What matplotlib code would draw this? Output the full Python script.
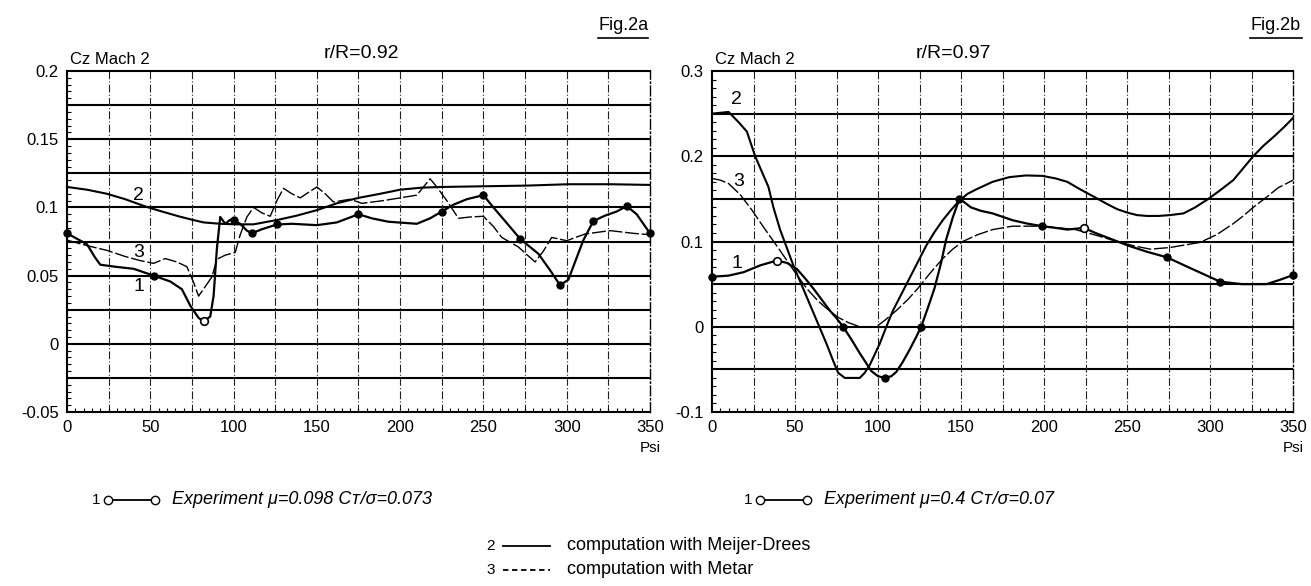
import matplotlib.pyplot as plt
from matplotlib.lines import Line2D
from matplotlib.ticker import MultipleLocator, FixedLocator

plt.rcParams['font.family'] = ['Liberation Sans', 'DejaVu Sans']

# ---- Fig.2a : r/R = 0.92 ----
psi_a_exp = [0, 6, 12, 17, 20, 29, 40, 52, 62, 69, 74, 79, 82, 86, 88, 90, 92, 95, 98, 100,
             104, 108, 111, 117, 126, 135, 150, 162, 175, 183, 193, 210, 218, 225, 232, 240,
             250, 256, 263, 272, 283, 290, 296, 301, 305, 310, 316, 323, 330, 336, 342, 350]
cz_a_exp = [0.081, 0.077, 0.073, 0.063, 0.058, 0.0565, 0.055, 0.050, 0.0457, 0.040, 0.028,
            0.019, 0.0165, 0.020, 0.035, 0.070, 0.093, 0.088, 0.091, 0.0905, 0.088, 0.083,
            0.081, 0.084, 0.0875, 0.088, 0.087, 0.089, 0.095, 0.092, 0.0895, 0.088, 0.092,
            0.097, 0.102, 0.106, 0.109, 0.100, 0.090, 0.077, 0.066, 0.054, 0.043, 0.047,
            0.060, 0.076, 0.090, 0.094, 0.097, 0.101, 0.095, 0.081]
psi_a_pts = [0, 52, 100, 111, 126, 175, 225, 250, 272, 296, 316, 336, 350]
cz_a_pts = [0.081, 0.050, 0.0905, 0.081, 0.0875, 0.095, 0.097, 0.109, 0.077, 0.043, 0.090,
            0.101, 0.081]
psi_a_open = [82]
cz_a_open = [0.0165]

psi_a_md = [0, 12, 24, 35, 47, 57, 67, 75, 82, 92, 102, 112, 127, 138, 150, 162, 175, 188,
            200, 213, 225, 250, 276, 301, 326, 350]
cz_a_md = [0.115, 0.113, 0.110, 0.106, 0.1007, 0.097, 0.0935, 0.091, 0.089, 0.088, 0.0876,
           0.0876, 0.091, 0.094, 0.098, 0.103, 0.107, 0.110, 0.113, 0.1145, 0.115, 0.1155,
           0.116, 0.117, 0.117, 0.1165]

psi_a_metar = [0, 12, 24, 35, 44, 52, 59, 66, 72, 76, 79, 83, 87, 90, 95, 101, 104, 108, 112,
               117, 122, 126, 130, 135, 140, 145, 150, 155, 160, 170, 177, 190, 210, 214, 218,
               222, 228, 235, 242, 250, 256, 261, 271, 281, 286, 291, 300, 311, 326, 340, 350]
cz_a_metar = [0.076, 0.072, 0.0685, 0.064, 0.061, 0.059, 0.0625, 0.060, 0.0565, 0.045, 0.035,
              0.042, 0.049, 0.062, 0.065, 0.067, 0.080, 0.093, 0.100, 0.096, 0.0935, 0.105,
              0.114, 0.110, 0.107, 0.111, 0.115, 0.110, 0.104, 0.106, 0.103, 0.105, 0.109,
              0.115, 0.121, 0.115, 0.105, 0.092, 0.093, 0.0935, 0.086, 0.078, 0.071, 0.060,
              0.068, 0.078, 0.0756, 0.0805, 0.083, 0.081, 0.080]

# ---- Fig.2b : r/R = 0.97 ----
psi_b_exp = [0, 10, 19, 29, 39, 45, 51, 56, 61, 66, 71, 75, 79, 84, 89, 93, 96, 100, 104, 108,
             111, 115, 119, 123, 126, 130, 134, 138, 141, 145, 149, 152, 156, 162, 169, 181,
             190, 199, 207, 214, 219, 224, 231, 239, 251, 262, 274, 289, 306, 319, 334, 342,
             350]
cz_b_exp = [0.0587, 0.060, 0.064, 0.072, 0.0777, 0.075, 0.068, 0.057, 0.045, 0.032, 0.019,
            0.010, 0.0, -0.015, -0.031, -0.043, -0.052, -0.058, -0.060, -0.058, -0.053, -0.041,
            -0.027, -0.012, 0.0, 0.022, 0.045, 0.075, 0.102, 0.128, 0.150, 0.146, 0.140,
            0.136, 0.133, 0.125, 0.121, 0.118, 0.116, 0.114, 0.115, 0.116, 0.110, 0.104,
            0.095, 0.088, 0.0815, 0.068, 0.053, 0.050, 0.050, 0.055, 0.0607]
psi_b_pts = [0, 79, 104, 126, 149, 199, 274, 306, 350]
cz_b_pts = [0.0587, 0.0, -0.060, 0.0, 0.150, 0.118, 0.0815, 0.053, 0.0607]
psi_b_open = [39, 224]
cz_b_open = [0.0777, 0.116]

psi_b_md = [0, 5, 10, 16, 21, 26, 30, 34, 37, 41, 45, 49, 54, 59, 64, 69, 73, 76, 80, 89, 92,
            95, 101, 105, 109, 114, 119, 124, 129, 134, 139, 144, 149, 154, 159, 169, 179,
            189, 199, 207, 214, 222, 231, 238, 244, 250, 256, 262, 269, 276, 284, 291, 299,
            306, 314, 320, 326, 332, 339, 345, 350]
cz_b_md = [0.25, 0.251, 0.252, 0.24, 0.229, 0.2, 0.182, 0.164, 0.14, 0.114, 0.093, 0.072,
           0.049, 0.026, 0.003, -0.02, -0.04, -0.054, -0.06, -0.06, -0.054, -0.045, -0.02,
           0.0, 0.019, 0.038, 0.057, 0.076, 0.095, 0.111, 0.125, 0.137, 0.148, 0.156, 0.161,
           0.170, 0.1755, 0.1775, 0.177, 0.174, 0.17, 0.161, 0.1515, 0.144, 0.138, 0.134,
           0.131, 0.130, 0.130, 0.131, 0.133, 0.140, 0.150, 0.160, 0.172, 0.186, 0.2, 0.212,
           0.224, 0.235, 0.245]

psi_b_metar = [0, 5, 10, 17, 24, 31, 39, 45, 51, 57, 64, 70, 76, 82, 89, 99, 105, 111, 118,
               124, 131, 139, 145, 151, 160, 169, 181, 199, 219, 232, 244, 254, 264, 276, 285,
               294, 304, 314, 320, 326, 334, 341, 350]
cz_b_metar = [0.174, 0.172, 0.168, 0.155, 0.137, 0.117, 0.095, 0.078, 0.061, 0.045, 0.03,
              0.02, 0.011, 0.005, 0.0, 0.0, 0.009, 0.019, 0.032, 0.045, 0.062, 0.080, 0.091,
              0.100, 0.108, 0.114, 0.118, 0.118, 0.114, 0.107, 0.1, 0.095, 0.091, 0.093, 0.096,
              0.099, 0.108, 0.121, 0.130, 0.140, 0.152, 0.163, 0.172]

psi_ticks = [0, 50, 100, 150, 200, 250, 300, 350]

fig = plt.figure(figsize=(13.11, 5.86), dpi=100)
ax_a = fig.add_axes([0.0511, 0.2969, 0.4447, 0.5819])
ax_b = fig.add_axes([0.5431, 0.2969, 0.4432, 0.5819])

grid_dash = (0, (7, 2, 1, 2))


def setup(ax, ylo, yhi, ystep, yminor, ylabels):
    ax.set_xlim(0, 350)
    ax.set_ylim(ylo, yhi)
    ax.xaxis.set_major_locator(FixedLocator(psi_ticks))
    ax.set_xticklabels([str(v) for v in psi_ticks])
    ax.xaxis.set_minor_locator(MultipleLocator(5))
    yt = [ylo + i * ystep for i in range(len(ylabels))]
    ax.yaxis.set_major_locator(FixedLocator(yt))
    ax.set_yticklabels(ylabels)
    ax.yaxis.set_minor_locator(MultipleLocator(yminor))
    ax.tick_params(which='major', length=0, labelsize=12, pad=6)
    ax.tick_params(which='minor', direction='in', length=3, width=0.8)
    # horizontal solid lines, vertical dash-dot lines every 25
    for v in yt[1:-1]:
        ax.axhline(v, color='black', lw=1.5, zorder=1)
    for v in range(25, 350, 25):
        ax.axvline(v, color='#222222', lw=0.8, ls=grid_dash, zorder=1)
    for s in ['left', 'bottom', 'top']:
        ax.spines[s].set_linewidth(1.5)
    ax.spines['right'].set_linestyle(grid_dash)
    ax.spines['right'].set_linewidth(1.0)
    ax.text(350, ylo - (yhi - ylo) * 0.085, 'Psi', ha='center', va='top', fontsize=11)


setup(ax_a, -0.05, 0.2, 0.025, 0.005,
      ['-0.05', '', '0', '', '0.05', '', '0.1', '', '0.15', '', '0.2'])
setup(ax_b, -0.1, 0.3, 0.05, 0.01,
      ['-0.1', '', '0', '', '0.1', '', '0.2', '', '0.3'])

# curves
for ax, (xe, ye, xp, yp, xo, yo, xm, ym, xt, yt) in [
        (ax_a, (psi_a_exp, cz_a_exp, psi_a_pts, cz_a_pts, psi_a_open, cz_a_open,
                psi_a_md, cz_a_md, psi_a_metar, cz_a_metar)),
        (ax_b, (psi_b_exp, cz_b_exp, psi_b_pts, cz_b_pts, psi_b_open, cz_b_open,
                psi_b_md, cz_b_md, psi_b_metar, cz_b_metar))]:
    ax.plot(xm, ym, color='black', lw=1.5, zorder=3, clip_on=False)
    ax.plot(xt, yt, color='black', lw=1.0, ls=(0, (10, 2)), zorder=3, clip_on=False)
    ax.plot(xe, ye, color='black', lw=1.6, zorder=4, clip_on=False)
    ax.plot(xp, yp, 'o', color='black', ms=5, zorder=5, clip_on=False)
    ax.plot(xo, yo, 'o', mfc='white', mec='black', mew=1.2, ms=5.5, zorder=5, clip_on=False)

# curve numbers
ax_a.text(43, 0.109, '2', fontsize=14, ha='center', va='center')
ax_a.text(43, 0.067, '3', fontsize=14, ha='center', va='center')
ax_a.text(43, 0.042, '1', fontsize=14, ha='center', va='center')
ax_b.text(15, 0.267, '2', fontsize=14, ha='center', va='center')
ax_b.text(16, 0.17, '3', fontsize=14, ha='center', va='center')
ax_b.text(15, 0.074, '1', fontsize=14, ha='center', va='center')

# headers
ax_a.text(0.005, 1.012, 'Cz Mach 2', transform=ax_a.transAxes, fontsize=12, va='bottom')
ax_a.text(0.44, 1.025, 'r/R=0.92', transform=ax_a.transAxes, fontsize=14, va='bottom')
ax_b.text(0.005, 1.012, 'Cz Mach 2', transform=ax_b.transAxes, fontsize=12, va='bottom')
ax_b.text(0.35, 1.025, 'r/R=0.97', transform=ax_b.transAxes, fontsize=14, va='bottom')

W, H = 1311.0, 586.0


def px(x, y):
    return x / W, 1 - y / H


fig.text(*px(598, 25), 'Fig.2a', fontsize=13, va='center')
fig.add_artist(Line2D([598 / W, 648 / W], [1 - 38 / H, 1 - 38 / H], color='black', lw=1.2))
fig.text(*px(1250, 25), 'Fig.2b', fontsize=13, va='center')
fig.add_artist(Line2D([1250 / W, 1302 / W], [1 - 38 / H, 1 - 38 / H], color='black', lw=1.2))


# legend rows
def key(x0, y, num, text, style, italic=False, circles=False):
    fig.text(*px(x0, y), num, fontsize=11, ha='right', va='center')
    fig.add_artist(Line2D([(x0 + 8) / W, (x0 + 55) / W], [1 - y / H, 1 - y / H],
                          color='black', lw=1.3, ls=style))
    if circles:
        fig.add_artist(Line2D([(x0 + 8) / W, (x0 + 55) / W], [1 - y / H, 1 - y / H],
                              ls='none', marker='o', mfc='white', mec='black', ms=6, mew=1))
    fig.text(*px(x0 + 72, y), text, fontsize=13, va='center',
             style='italic' if italic else 'normal')


key(100, 500, '1', 'Experiment \u03bc=0.098 C\u1d1b/\u03c3=0.073', '-', True, True)
key(752, 500, '1', 'Experiment \u03bc=0.4 C\u1d1b/\u03c3=0.07', '-', True, True)
key(495, 546, '2', 'computation with Meijer-Drees', '-')
key(495, 570, '3', 'computation with Metar', (0, (3, 2)))

fig.savefig('out.png', dpi=100)
